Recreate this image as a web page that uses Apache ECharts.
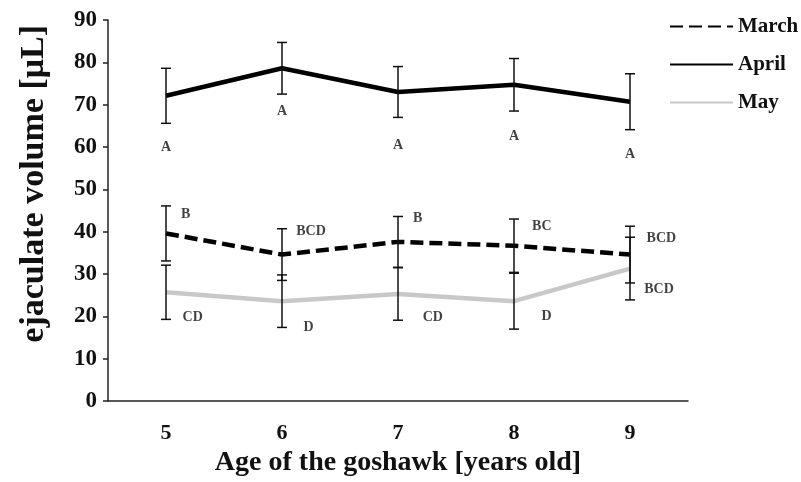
<!DOCTYPE html>
<html>
<head>
<meta charset="utf-8">
<script src="https://cdn.jsdelivr.net/npm/echarts@6/dist/echarts.min.js"></script>
<style>
html,body{margin:0;padding:0;background:#fff;}
#c{width:801px;height:482px;}
</style>
</head>
<body>
<div id="c"></div>
<script>
var categories = ['5', '6', '7', '8', '9'];
var march = [39.6, 34.6, 37.6, 36.7, 34.6];
var marchErr = [6.5, 6.1, 6.0, 6.3, 6.7];
var april = [72.1, 78.6, 73.0, 74.7, 70.7];
var aprilErr = [6.5, 6.1, 6.0, 6.2, 6.6];
var may = [25.7, 23.6, 25.3, 23.6, 31.3];
var mayErr = [6.4, 6.2, 6.2, 6.6, 7.4];

var aprilLetters = ['A', 'A', 'A', 'A', 'A'];
var aprilLetterX = [5, 6, 7, 8, 9];
var aprilLetterY = [60.0, 68.5, 60.4, 62.6, 58.2];
var marchLetters = ['B', 'BCD', 'B', 'BC', 'BCD'];
var marchLetterX = [5.17, 6.25, 7.17, 8.24, 9.27];
var marchLetterY = [44.0, 40.0, 43.1, 41.3, 38.5];
var mayLetters = ['CD', 'D', 'CD', 'D', 'BCD'];
var mayLetterX = [5.23, 6.23, 7.30, 8.28, 9.25];
var mayLetterY = [19.7, 17.5, 19.7, 19.9, 26.4];

var FONT = '"Liberation Serif", "Times New Roman", serif';

function errData(mean, err) {
  return mean.map(function (m, i) { return [i, m - err[i], m + err[i]]; });
}
function letterData(txt, xs, ys) {
  return txt.map(function (t, i) { return { value: [xs[i], ys[i]], name: t }; });
}
function errSeries(mean, err) {
  return {
    type: 'custom',
    xAxisIndex: 0, yAxisIndex: 0,
    z: 5,
    silent: true,
    data: errData(mean, err),
    renderItem: function (params, api) {
      var lo = api.coord([api.value(0), api.value(1)]);
      var hi = api.coord([api.value(0), api.value(2)]);
      var w = 5;
      var st = { stroke: '#111', lineWidth: 1.5 };
      return {
        type: 'group',
        children: [
          { type: 'line', shape: { x1: lo[0], y1: lo[1], x2: hi[0], y2: hi[1] }, style: st },
          { type: 'line', shape: { x1: lo[0] - w, y1: lo[1], x2: lo[0] + w, y2: lo[1] }, style: st },
          { type: 'line', shape: { x1: hi[0] - w, y1: hi[1], x2: hi[0] + w, y2: hi[1] }, style: st }
        ]
      };
    }
  };
}
function letterSeries(txt, xs, ys) {
  return {
    type: 'scatter',
    xAxisIndex: 1, yAxisIndex: 0,
    symbolSize: 0,
    silent: true,
    data: letterData(txt, xs, ys),
    label: {
      show: true, position: 'inside', formatter: '{b}',
      fontFamily: FONT, fontWeight: 'bold', fontSize: 14, color: '#111'
    }
  };
}

var chart = echarts.init(document.getElementById('c'), null, { renderer: 'canvas' });
chart.setOption({
  backgroundColor: '#fff',
  animation: false,
  grid: { left: 108, right: 113, top: 20, bottom: 74 },
  legend: {
    orient: 'vertical', left: 664, top: 11,
    itemWidth: 63, itemHeight: 14, itemGap: 17,
    itemStyle: { opacity: 0 },
    textStyle: { fontFamily: FONT, fontWeight: 'bold', fontSize: 21, color: '#111' },
    data: ['March', 'April', 'May']
  },
  xAxis: [{
    type: 'category', data: categories,
    axisLine: { lineStyle: { color: '#222', width: 1.5 } },
    axisTick: { length: 5, lineStyle: { color: '#222', width: 1.5 } },
    axisLabel: { fontFamily: FONT, fontWeight: 'bold', fontSize: 22, color: '#111', margin: 21 },
    name: 'Age of the goshawk [years old]', nameLocation: 'middle', nameGap: 46,
    nameTextStyle: { fontFamily: FONT, fontWeight: 'bold', fontSize: 28, color: '#111' }
  }, {
    type: 'value', min: 4.5, max: 9.5, show: false
  }],
  yAxis: {
    type: 'value', min: 0, max: 90, interval: 10,
    splitLine: { show: false },
    axisLine: { show: true, lineStyle: { color: '#222', width: 1.5 } },
    axisTick: { show: true, length: 5, lineStyle: { color: '#222', width: 1.5 } },
    axisLabel: { fontFamily: FONT, fontWeight: 'bold', fontSize: 23, color: '#111', margin: 11 }
  },
  graphic: [{
    type: 'text', left: 17, top: 25, rotation: Math.PI / 2,
    style: {
      text: 'ejaculate volume [μL]', fontFamily: FONT, fontWeight: 'bold',
      fontSize: 34, fill: '#111'
    }
  }],
  series: [
    { name: 'March', type: 'line', data: march, symbol: 'none', z: 3,
      lineStyle: { color: '#000', width: 4.5, type: [13, 6] }, itemStyle: { color: '#000' } },
    { name: 'April', type: 'line', data: april, symbol: 'none', z: 3,
      lineStyle: { color: '#000', width: 4.5 }, itemStyle: { color: '#000' } },
    { name: 'May', type: 'line', data: may, symbol: 'none', z: 2,
      lineStyle: { color: '#c8c8c8', width: 4.5 }, itemStyle: { color: '#c8c8c8' } },
    errSeries(march, marchErr),
    errSeries(april, aprilErr),
    errSeries(may, mayErr),
    letterSeries(aprilLetters, aprilLetterX, aprilLetterY),
    letterSeries(marchLetters, marchLetterX, marchLetterY),
    letterSeries(mayLetters, mayLetterX, mayLetterY)
  ]
});
</script>
</body>
</html>
